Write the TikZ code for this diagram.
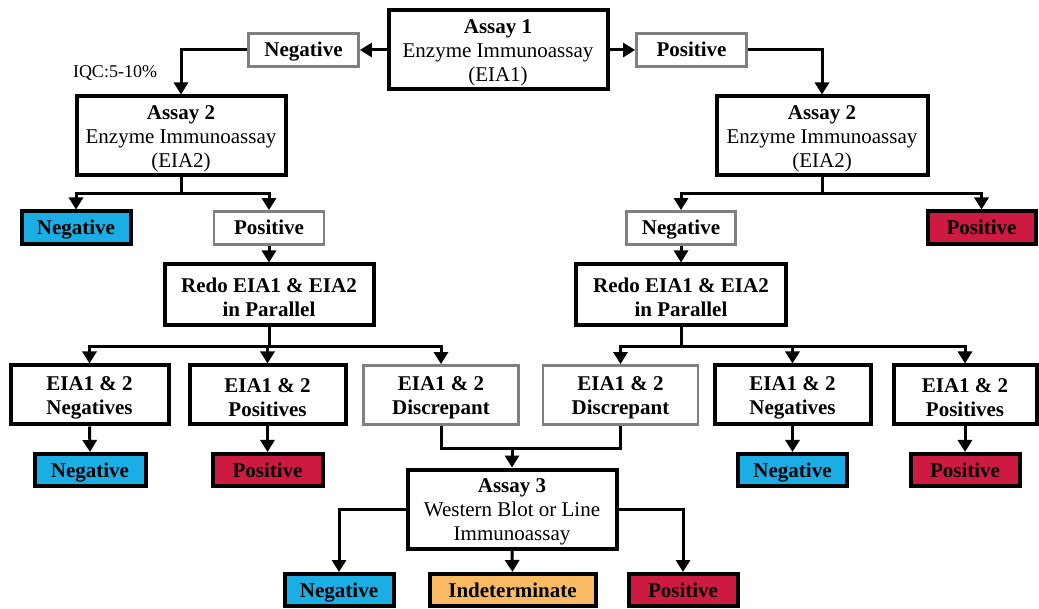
\documentclass[tikz,border=0pt]{standalone}
\usepackage{fontspec}
\setmainfont{Liberation Serif}
\usetikzlibrary{arrows.meta}
\definecolor{negColor}{RGB}{27,174,229}
\definecolor{posColor}{RGB}{204,26,64}
\definecolor{indColor}{RGB}{250,186,100}
\definecolor{rimColor}{RGB}{128,128,128}
\newcommand{\hi}{\rule{0pt}{20pt}}
\begin{document}
\begin{tikzpicture}[x=1pt,y=-1pt,
  every node/.style={align=center,inner sep=0pt,font=\fontsize{21}{24}\selectfont},
  tag/.style={text height=16.5pt,text depth=2.5pt},
  blackbox/.style={draw=black,line width=4pt,fill=white},
  greybox/.style={draw=rimColor,line width=2.8pt,fill=white,font=\fontsize{21}{24}\selectfont\bfseries},
  negbox/.style={tag,draw=black,line width=4pt,fill=negColor,font=\fontsize{21}{24}\selectfont\bfseries},
  posbox/.style={tag,draw=black,line width=4pt,fill=posColor,font=\fontsize{21}{24}\selectfont\bfseries},
  indbox/.style={tag,draw=black,line width=4pt,fill=indColor,font=\fontsize{21}{24}\selectfont\bfseries},
  wire/.style={draw=black,line width=3pt},
  arr/.style={wire,-{Triangle[width=14pt,length=12pt]}}]
\path[use as bounding box,fill=white] (0,0) rectangle (1039,609);

% first assay
\node[blackbox,minimum width=219,minimum height=79] (a1) at (498,50) {\hi\textbf{Assay 1}\\Enzyme Immunoassay\\(EIA1)};
\node[greybox,tag,minimum width=110,minimum height=33] (n1) at (303.5,50) {Negative};
\node[greybox,tag,minimum width=110,minimum height=33] (p1) at (691.5,50) {Positive};
\node[font=\fontsize{18}{20}\selectfont] (iqc) at (115,73) {IQC:5-10\%};

% second assay
\node[blackbox,minimum width=209,minimum height=79] (a2l) at (181,136) {\hi\textbf{Assay 2}\\Enzyme Immunoassay\\(EIA2)};
\node[blackbox,minimum width=211,minimum height=79] (a2r) at (822,136) {\hi\textbf{Assay 2}\\Enzyme Immunoassay\\(EIA2)};

\node[negbox,minimum width=109,minimum height=33] (nl1) at (76,228) {Negative};
\node[greybox,tag,minimum width=110,minimum height=33] (pl1) at (269,228) {Positive};
\node[greybox,tag,minimum width=109,minimum height=33] (nr1) at (681,228) {Negative};
\node[posbox,minimum width=108,minimum height=33] (pr1) at (981.5,228) {Positive};

% redo in parallel
\node[blackbox,minimum width=209,minimum height=61,font=\fontsize{21}{24}\selectfont\bfseries] (rl) at (269,295) {\hi Redo EIA1 \& EIA2\\in Parallel};
\node[blackbox,minimum width=210,minimum height=61,font=\fontsize{21}{24}\selectfont\bfseries] (rr) at (681,295) {\hi Redo EIA1 \& EIA2\\in Parallel};

\node[blackbox,minimum width=158,minimum height=59,font=\fontsize{21}{24}\selectfont\bfseries] (bl1) at (89.5,395) {\hi EIA1 \& 2\\Negatives};
\node[blackbox,minimum width=156,minimum height=59,font=\fontsize{21}{24}\selectfont\bfseries] (bl2) at (267.5,395) {\hi EIA1 \& 2\\Positives};
\node[greybox,minimum width=155,minimum height=59] (bl3) at (441,395) {\hi EIA1 \& 2\\Discrepant};
\node[greybox,minimum width=155,minimum height=59] (br1) at (620.5,395) {\hi EIA1 \& 2\\Discrepant};
\node[blackbox,minimum width=156,minimum height=59,font=\fontsize{21}{24}\selectfont\bfseries] (br2) at (792.5,395) {\hi EIA1 \& 2\\Negatives};
\node[blackbox,minimum width=143,minimum height=59,font=\fontsize{21}{24}\selectfont\bfseries] (br3) at (965,395) {\hi EIA1 \& 2\\Positives};

\node[negbox,minimum width=111,minimum height=32] (nl2) at (90,470) {Negative};
\node[posbox,minimum width=110,minimum height=32] (pl2) at (267.5,470) {Positive};
\node[negbox,minimum width=109,minimum height=32] (nr2) at (792.5,470) {Negative};
\node[posbox,minimum width=109,minimum height=32] (pr2) at (965,470) {Positive};

% third assay
\node[blackbox,minimum width=209,minimum height=79] (a3) at (512,509) {\hi\textbf{Assay 3}\\Western Blot or Line\\Immunoassay};
\node[negbox,minimum width=109,minimum height=32] (n3) at (339,590) {Negative};
\node[indbox,minimum width=166,minimum height=32] (i3) at (512.5,590) {Indeterminate};
\node[posbox,minimum width=109,minimum height=32] (p3) at (683,590) {Positive};
\coordinate (mrg) at (512,448);

% connectors
\draw[arr] (a1.west) -- (n1.east);
\draw[arr] (a1.east) -- (p1.west);
\draw[arr] (n1.west) -| (a2l.north);
\draw[arr] (p1.east) -| (a2r.north);

\draw[arr] (a2l.south) -- ++(0,16) -| (nl1.north);
\draw[arr] (a2l.south) -- ++(0,16) -| (pl1.north);
\draw[arr] (a2r.south) -- ++(0,16) -| (nr1.north);
\draw[arr] (a2r.south) -- ++(0,16) -| (pr1.north);

\draw[arr] (pl1.south) -- (rl.north);
\draw[arr] (nr1.south) -- (rr.north);

\draw[arr] (rl.south) -- ++(0,19) -| (bl1.north);
\draw[arr] (rl.south) -- ++(0,19) -| (bl2.north);
\draw[arr] (rl.south) -- ++(0,19) -| (bl3.north);
\draw[arr] (rr.south) -- ++(0,19) -| (br1.north);
\draw[arr] (rr.south) -- ++(0,19) -| (br2.north);
\draw[arr] (rr.south) -- ++(0,19) -| (br3.north);

\draw[arr] (bl1.south) -- (nl2.north);
\draw[arr] (bl2.south) -- (pl2.north);
\draw[arr] (br2.south) -- (nr2.north);
\draw[arr] (br3.south) -- (pr2.north);

\draw[wire] (bl3.south) |- (mrg) -| (br1.south);
\draw[arr] (mrg) -- (a3.north);

\draw[arr] (a3.west) -| (n3.north);
\draw[arr] (a3.south) -- (i3.north);
\draw[arr] (a3.east) -| (p3.north);
\end{tikzpicture}
\end{document}
